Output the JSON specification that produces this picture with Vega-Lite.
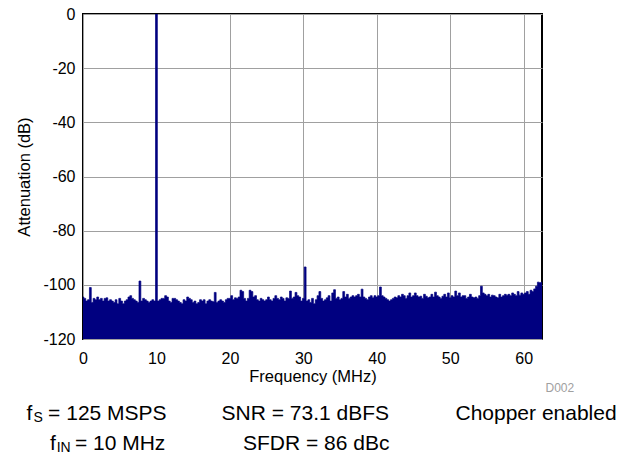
{
 "$schema": "https://vega.github.io/schema/vega-lite/v6.json",
 "width": 459,
 "height": 325,
 "autosize": {"type": "none"},
 "padding": {"left": 83, "top": 14, "right": 86, "bottom": 115},
 "background": "white",
 "config": {
  "view": {"stroke": "black", "strokeWidth": 2},
  "font": "Liberation Sans",
  "axis": {
   "labelFont": "Liberation Sans",
   "titleFont": "Liberation Sans",
   "labelColor": "black",
   "titleColor": "black",
   "titleFontWeight": "normal",
   "labelFontSize": 16,
   "titleFontSize": 16.5,
   "ticks": false,
   "domain": false,
   "grid": true,
   "gridColor": "#a0a0a0",
   "gridWidth": 1,
   "labelFlush": false,
   "labelOverlap": false
  }
 },
 "datasets": {
  "fft": [
   {"f":0,"db":-104.5},{"f":0.25,"db":-105},{"f":0.5,"db":-106},{"f":0.75,"db":-105.5},
   {"f":1,"db":-101},{"f":1.25,"db":-106.5},{"f":1.5,"db":-105},{"f":1.75,"db":-105.5},
   {"f":2,"db":-104.5},{"f":2.25,"db":-105.5},{"f":2.5,"db":-105},{"f":2.75,"db":-106},
   {"f":3,"db":-105},{"f":3.25,"db":-104.8},{"f":3.5,"db":-106},{"f":3.75,"db":-105.5},
   {"f":4,"db":-106},{"f":4.25,"db":-106.5},{"f":4.5,"db":-105.5},{"f":4.75,"db":-107},
   {"f":5,"db":-105},{"f":5.25,"db":-106},{"f":5.5,"db":-107},{"f":5.75,"db":-106},
   {"f":6,"db":-105.5},{"f":6.25,"db":-104.5},{"f":6.5,"db":-104},{"f":6.75,"db":-105},
   {"f":7,"db":-105.5},{"f":7.25,"db":-106},{"f":7.5,"db":-106.5},{"f":7.75,"db":-98.6},
   {"f":8,"db":-106},{"f":8.25,"db":-105},{"f":8.5,"db":-105.5},{"f":8.75,"db":-106},
   {"f":9,"db":-106.5},{"f":9.25,"db":-106},{"f":9.5,"db":-105.5},{"f":9.75,"db":-106},
   {"f":10,"db":0},{"f":10.25,"db":-106},{"f":10.5,"db":-105.5},{"f":10.75,"db":-105},
   {"f":11,"db":-105},{"f":11.25,"db":-104},{"f":11.5,"db":-104.5},{"f":11.75,"db":-106},
   {"f":12,"db":-106.5},{"f":12.25,"db":-105},{"f":12.5,"db":-105},{"f":12.75,"db":-105.5},
   {"f":13,"db":-106},{"f":13.25,"db":-106.5},{"f":13.5,"db":-107},{"f":13.75,"db":-105.5},
   {"f":14,"db":-106},{"f":14.25,"db":-104.5},{"f":14.5,"db":-105},{"f":14.75,"db":-105.5},
   {"f":15,"db":-106.5},{"f":15.25,"db":-106},{"f":15.5,"db":-107},{"f":15.75,"db":-106.5},
   {"f":16,"db":-105.5},{"f":16.25,"db":-106},{"f":16.5,"db":-105.5},{"f":16.75,"db":-107},
   {"f":17,"db":-106},{"f":17.25,"db":-105.5},{"f":17.5,"db":-106},{"f":17.75,"db":-106.2},
   {"f":18,"db":-102.8},{"f":18.25,"db":-106.5},{"f":18.5,"db":-106},{"f":18.75,"db":-105.5},
   {"f":19,"db":-106},{"f":19.25,"db":-106.5},{"f":19.5,"db":-105.5},{"f":19.75,"db":-105},
   {"f":20,"db":-105},{"f":20.25,"db":-104},{"f":20.5,"db":-105.5},{"f":20.75,"db":-104.8},
   {"f":21,"db":-105},{"f":21.25,"db":-104.5},{"f":21.5,"db":-102},{"f":21.75,"db":-102.5},
   {"f":22,"db":-105},{"f":22.25,"db":-106},{"f":22.5,"db":-105},{"f":22.75,"db":-102},
   {"f":23,"db":-102.5},{"f":23.25,"db":-104.5},{"f":23.5,"db":-104},{"f":23.75,"db":-105.5},
   {"f":24,"db":-106},{"f":24.25,"db":-105},{"f":24.5,"db":-105.5},{"f":24.75,"db":-106},
   {"f":25,"db":-105.5},{"f":25.25,"db":-104.5},{"f":25.5,"db":-105.5},{"f":25.75,"db":-106},
   {"f":26,"db":-105},{"f":26.25,"db":-104},{"f":26.5,"db":-105},{"f":26.75,"db":-105.5},
   {"f":27,"db":-104.5},{"f":27.25,"db":-105},{"f":27.5,"db":-106},{"f":27.75,"db":-104.8},
   {"f":28,"db":-105},{"f":28.25,"db":-102.3},{"f":28.5,"db":-105},{"f":28.75,"db":-104.5},
   {"f":29,"db":-102.8},{"f":29.25,"db":-104},{"f":29.5,"db":-104.5},{"f":29.75,"db":-106},
   {"f":30,"db":-105},{"f":30.25,"db":-93.4},{"f":30.5,"db":-106},{"f":30.75,"db":-105.5},
   {"f":31,"db":-106.5},{"f":31.25,"db":-105},{"f":31.5,"db":-107},{"f":31.75,"db":-105.5},
   {"f":32,"db":-104},{"f":32.25,"db":-102.5},{"f":32.5,"db":-105},{"f":32.75,"db":-106},
   {"f":33,"db":-105.5},{"f":33.25,"db":-104.8},{"f":33.5,"db":-104},{"f":33.75,"db":-106},
   {"f":34,"db":-103},{"f":34.25,"db":-101.8},{"f":34.5,"db":-105},{"f":34.75,"db":-104.5},
   {"f":35,"db":-105.5},{"f":35.25,"db":-105},{"f":35.5,"db":-102.5},{"f":35.75,"db":-104.5},
   {"f":36,"db":-103.5},{"f":36.25,"db":-105},{"f":36.5,"db":-104.5},{"f":36.75,"db":-104},
   {"f":37,"db":-104.5},{"f":37.25,"db":-104},{"f":37.5,"db":-103.5},{"f":37.75,"db":-104.5},
   {"f":38,"db":-101.6},{"f":38.25,"db":-104.5},{"f":38.5,"db":-105},{"f":38.75,"db":-105.5},
   {"f":39,"db":-104.5},{"f":39.25,"db":-104},{"f":39.5,"db":-104.8},{"f":39.75,"db":-104},
   {"f":40,"db":-104.5},{"f":40.25,"db":-104},{"f":40.5,"db":-100.8},{"f":40.75,"db":-104},
   {"f":41,"db":-104.5},{"f":41.25,"db":-105},{"f":41.5,"db":-105.5},{"f":41.75,"db":-106},
   {"f":42,"db":-105.5},{"f":42.25,"db":-105},{"f":42.5,"db":-104.5},{"f":42.75,"db":-104.8},
   {"f":43,"db":-104},{"f":43.25,"db":-104.5},{"f":43.5,"db":-103.5},{"f":43.75,"db":-104},
   {"f":44,"db":-105},{"f":44.25,"db":-104},{"f":44.5,"db":-103},{"f":44.75,"db":-104.5},
   {"f":45,"db":-104},{"f":45.25,"db":-103},{"f":45.5,"db":-104},{"f":45.75,"db":-104.5},
   {"f":46,"db":-104.2},{"f":46.25,"db":-105},{"f":46.5,"db":-103.5},{"f":46.75,"db":-104.2},
   {"f":47,"db":-104.8},{"f":47.25,"db":-104.5},{"f":47.5,"db":-103.5},{"f":47.75,"db":-104.5},
   {"f":48,"db":-102.7},{"f":48.25,"db":-104},{"f":48.5,"db":-104.5},{"f":48.75,"db":-105},
   {"f":49,"db":-104.2},{"f":49.25,"db":-103.5},{"f":49.5,"db":-104.5},{"f":49.75,"db":-103},
   {"f":50,"db":-104.8},{"f":50.25,"db":-104},{"f":50.5,"db":-104.5},{"f":50.75,"db":-102.3},
   {"f":51,"db":-104},{"f":51.25,"db":-103},{"f":51.5,"db":-104.5},{"f":51.75,"db":-104},
   {"f":52,"db":-104},{"f":52.25,"db":-105},{"f":52.5,"db":-104.5},{"f":52.75,"db":-103.5},
   {"f":53,"db":-104.5},{"f":53.25,"db":-104.8},{"f":53.5,"db":-104.5},{"f":53.75,"db":-105},
   {"f":54,"db":-104},{"f":54.25,"db":-100.5},{"f":54.5,"db":-103},{"f":54.75,"db":-103.5},
   {"f":55,"db":-104},{"f":55.25,"db":-103.5},{"f":55.5,"db":-104.5},{"f":55.75,"db":-103.8},
   {"f":56,"db":-104},{"f":56.25,"db":-104.5},{"f":56.5,"db":-104.8},{"f":56.75,"db":-103.5},
   {"f":57,"db":-104.5},{"f":57.25,"db":-104},{"f":57.5,"db":-103.5},{"f":57.75,"db":-103.8},
   {"f":58,"db":-103.5},{"f":58.25,"db":-104},{"f":58.5,"db":-103},{"f":58.75,"db":-103.5},
   {"f":59,"db":-104},{"f":59.25,"db":-102.5},{"f":59.5,"db":-103.8},{"f":59.75,"db":-103},
   {"f":60,"db":-103.5},{"f":60.25,"db":-103},{"f":60.5,"db":-102.5},{"f":60.75,"db":-103.5},
   {"f":61,"db":-102},{"f":61.25,"db":-102.5},{"f":61.5,"db":-101.5},{"f":61.75,"db":-100.5},
   {"f":62,"db":-99},{"f":62.25,"db":-99.2},{"f":62.5,"db":-99}
  ]
 },
 "layer": [
  {
   "data": {"name": "fft"},
   "mark": {"type": "area", "interpolate": "step", "color": "#000080", "stroke": "#000080", "strokeWidth": 0.7, "clip": true},
   "encoding": {
    "x": {"field": "f", "type": "quantitative",
          "scale": {"domain": [0, 62.5], "nice": false, "zero": false},
          "axis": {"values": [0, 10, 20, 30, 40, 50, 60], "title": "Frequency (MHz)", "labelPadding": 11, "titlePadding": 2}},
    "y": {"field": "db", "type": "quantitative",
          "scale": {"domain": [-120, 0], "nice": false},
          "axis": {"values": [-120, -100, -80, -60, -40, -20, 0], "labelExpr": "datum.value + ''", "title": "Attenuation (dB)", "labelPadding": 8, "titlePadding": 10}},
    "y2": {"datum": -120}
   }
  },
  {"data": {"values": [{}]}, "mark": {"type": "text", "text": "f", "align": "left", "baseline": "alphabetic", "fontSize": 21, "color": "black"},
   "encoding": {"x": {"datum": -7.69}, "y": {"datum": -149.9}}},
  {"data": {"values": [{}]}, "mark": {"type": "text", "text": "S", "align": "left", "baseline": "alphabetic", "fontSize": 14, "color": "black"},
   "encoding": {"x": {"datum": -6.74}, "y": {"datum": -150.8}}},
  {"data": {"values": [{}]}, "mark": {"type": "text", "text": "= 125 MSPS", "align": "left", "baseline": "alphabetic", "fontSize": 21, "color": "black"},
   "encoding": {"x": {"datum": -4.75}, "y": {"datum": -149.9}}},
  {"data": {"values": [{}]}, "mark": {"type": "text", "text": "SNR = 73.1 dBFS", "align": "left", "baseline": "alphabetic", "fontSize": 21, "color": "black"},
   "encoding": {"x": {"datum": 18.86}, "y": {"datum": -149.9}}},
  {"data": {"values": [{}]}, "mark": {"type": "text", "text": "Chopper enabled", "align": "left", "baseline": "alphabetic", "fontSize": 21, "color": "black"},
   "encoding": {"x": {"datum": 50.72}, "y": {"datum": -149.9}}},
  {"data": {"values": [{}]}, "mark": {"type": "text", "text": "f", "align": "left", "baseline": "alphabetic", "fontSize": 21, "color": "black"},
   "encoding": {"x": {"datum": -4.49}, "y": {"datum": -161.0}}},
  {"data": {"values": [{}]}, "mark": {"type": "text", "text": "IN", "align": "left", "baseline": "alphabetic", "fontSize": 14, "color": "black"},
   "encoding": {"x": {"datum": -3.58}, "y": {"datum": -161.6}}},
  {"data": {"values": [{}]}, "mark": {"type": "text", "text": "= 10 MHz", "align": "left", "baseline": "alphabetic", "fontSize": 21, "color": "black"},
   "encoding": {"x": {"datum": -1.1}, "y": {"datum": -161.0}}},
  {"data": {"values": [{}]}, "mark": {"type": "text", "text": "SFDR = 86 dBc", "align": "left", "baseline": "alphabetic", "fontSize": 21, "color": "black"},
   "encoding": {"x": {"datum": 21.79}, "y": {"datum": -161.0}}},
  {"data": {"values": [{}]}, "mark": {"type": "text", "text": "D002", "align": "left", "baseline": "middle", "fontSize": 12, "color": "#a0a0a0"},
   "encoding": {"x": {"datum": 62.98}, "y": {"datum": -138.2}}}
 ]
}
